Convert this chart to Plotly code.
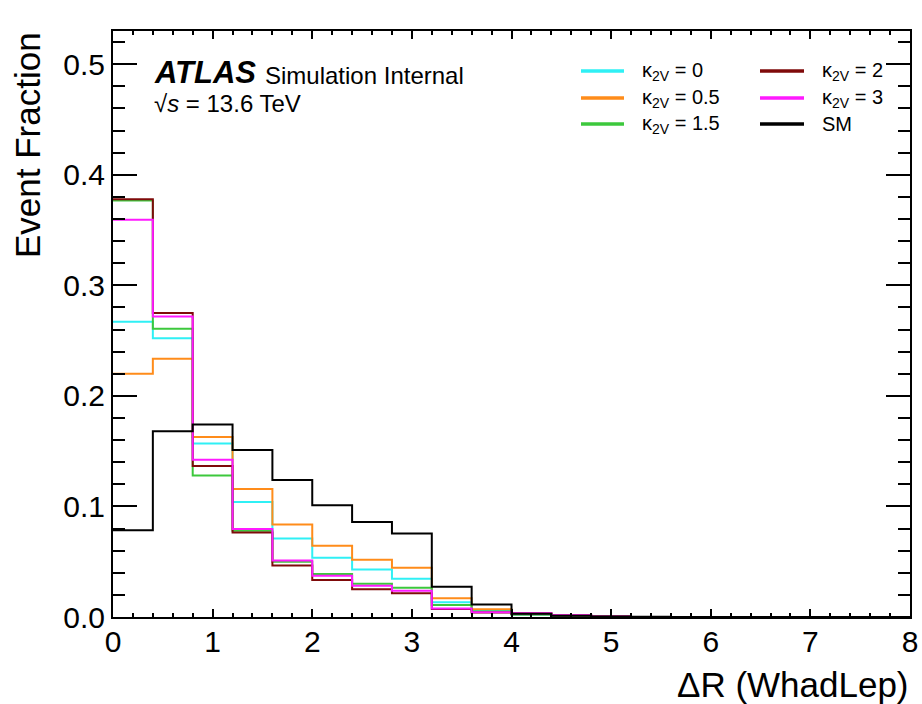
import plotly.graph_objects as go

# ---------------- data ----------------
bin_edges = [round(0.4 * i, 1) for i in range(21)]

labels = ["κ<sub>2V</sub> = 0", "κ<sub>2V</sub> = 0.5", "κ<sub>2V</sub> = 1.5",
          "κ<sub>2V</sub> = 2", "κ<sub>2V</sub> = 3", "SM"]

k2v_0 = [0.267, 0.252, 0.157, 0.104, 0.071, 0.0535, 0.043, 0.0346, 0.0133, 0.006,
         0.002, 0.0008, 0.0003, 0.0001, 0, 0, 0, 0, 0, 0]
k2v_05 = [0.220, 0.2335, 0.1627, 0.1158, 0.0836, 0.0644, 0.0517, 0.0445, 0.0169, 0.007,
          0.0025, 0.001, 0.0004, 0.0001, 0, 0, 0, 0, 0, 0]
k2v_15 = [0.3766, 0.2608, 0.128, 0.078, 0.050, 0.0388, 0.030, 0.0265, 0.0108, 0.005,
          0.0022, 0.0008, 0.0003, 0.0001, 0, 0, 0, 0, 0, 0]
k2v_2 = [0.3779, 0.275, 0.1366, 0.0764, 0.0466, 0.0334, 0.025, 0.0214, 0.0072, 0.004,
         0.0035, 0.0015, 0.0004, 0.0001, 0, 0, 0, 0, 0, 0]
k2v_3 = [0.3592, 0.2717, 0.1423, 0.0797, 0.0511, 0.0373, 0.0283, 0.0237, 0.0077, 0.0042,
         0.0035, 0.0015, 0.0004, 0.0001, 0, 0, 0, 0, 0, 0]
sm = [0.0785, 0.168, 0.174, 0.151, 0.124, 0.101, 0.086, 0.0755, 0.0274, 0.0114,
      0.003, 0.0012, 0.0004, 0.0002, 0, 0, 0, 0, 0, 0]

series = [k2v_0, k2v_05, k2v_15, k2v_2, k2v_3, sm]
colors = ["#2ff0f5", "#ff8c1a", "#3cc83c", "#7f0a0a", "#ff1aff", "#000000"]

x_ticks = [0, 1, 2, 3, 4, 5, 6, 7, 8]
y_ticks = [0.0, 0.1, 0.2, 0.3, 0.4, 0.5]

FONT = "Liberation Sans, Arial, Helvetica, sans-serif"

# plot-area geometry (pixels) used to place legend / labels in paper coords
W, H = 922, 704
ML, MR, MT, MB = 113, 12, 31, 87
PW, PH = W - ML - MR, H - MT - MB


def px_x(px):
    return (px - ML) / PW


def px_y(py):
    return (H - MB - py) / PH


fig = go.Figure()
for vals, lab, col in zip(series, labels, colors):
    fig.add_trace(go.Scatter(
        x=bin_edges, y=vals + [vals[-1]], mode="lines",
        line=dict(color=col, width=2, shape="hv"),
        name=lab, showlegend=False, hoverinfo="skip"))

axis_common = dict(showline=True, linecolor="black", linewidth=2, mirror="ticks",
                   ticks="inside", tickcolor="black", tickwidth=1.5, showgrid=False,
                   zeroline=False, automargin=False,
                   tickfont=dict(family=FONT, size=30, color="black"))

fig.update_xaxes(range=[0, 8], tickvals=x_ticks, ticktext=[str(v) for v in x_ticks],
                 ticklen=8, ticklabelstandoff=-3,
                 minor=dict(ticks="inside", ticklen=4, dtick=0.2,
                            tickcolor="black", tickwidth=1.5, showgrid=False),
                 **axis_common)
fig.update_yaxes(range=[0, 0.53], tickvals=y_ticks, ticktext=[f"{v:.1f}" for v in y_ticks],
                 ticklen=24,
                 minor=dict(ticks="inside", ticklen=12, dtick=0.02,
                            tickcolor="black", tickwidth=1.5, showgrid=False),
                 **axis_common)

# manual two-column legend
leg_cols_line = [(581, 624), (760, 804)]
leg_cols_text = [640, 820]
leg_rows = [71, 98, 124]
shapes = []
annotations = []
for i, (lab, col) in enumerate(zip(labels, colors)):
    c, r = divmod(i, 3)
    y = px_y(leg_rows[r])
    shapes.append(dict(type="line", xref="paper", yref="paper",
                       x0=px_x(leg_cols_line[c][0]), x1=px_x(leg_cols_line[c][1]),
                       y0=y, y1=y, line=dict(color=col, width=3.5)))
    annotations.append(dict(text=lab, x=px_x(leg_cols_text[c]), y=y, xref="paper", yref="paper",
                            xanchor="left", yanchor="middle", showarrow=False,
                            font=dict(family=FONT, size=20, color="black")))

annotations += [
    dict(text="<b><i>ATLAS</i></b>", x=px_x(152), y=px_y(73), xref="paper", yref="paper",
         xanchor="left", yanchor="middle", showarrow=False,
         font=dict(family=FONT, size=31, color="black")),
    dict(text="Simulation Internal", x=px_x(263), y=px_y(75), xref="paper", yref="paper",
         xanchor="left", yanchor="middle", showarrow=False,
         font=dict(family=FONT, size=24, color="black")),
    dict(text="√<i>s</i> = 13.6 TeV", x=px_x(152), y=px_y(104), xref="paper", yref="paper",
         xanchor="left", yanchor="middle", showarrow=False,
         font=dict(family=FONT, size=24, color="black")),
    dict(text="Event Fraction", x=px_x(27), y=px_y(30), xref="paper", yref="paper",
         xanchor="center", yanchor="top", textangle=-90, showarrow=False,
         font=dict(family=FONT, size=35, color="black")),
    dict(text="ΔR (WhadLep)", x=px_x(911), y=px_y(684), xref="paper", yref="paper",
         xanchor="right", yanchor="middle", showarrow=False,
         font=dict(family=FONT, size=35, color="black")),
]

fig.update_layout(
    width=W, height=H,
    margin=dict(l=ML, r=MR, t=MT, b=MB),
    plot_bgcolor="white", paper_bgcolor="white",
    showlegend=False,
    shapes=shapes,
    annotations=annotations,
)

fig.write_html("out.html")
